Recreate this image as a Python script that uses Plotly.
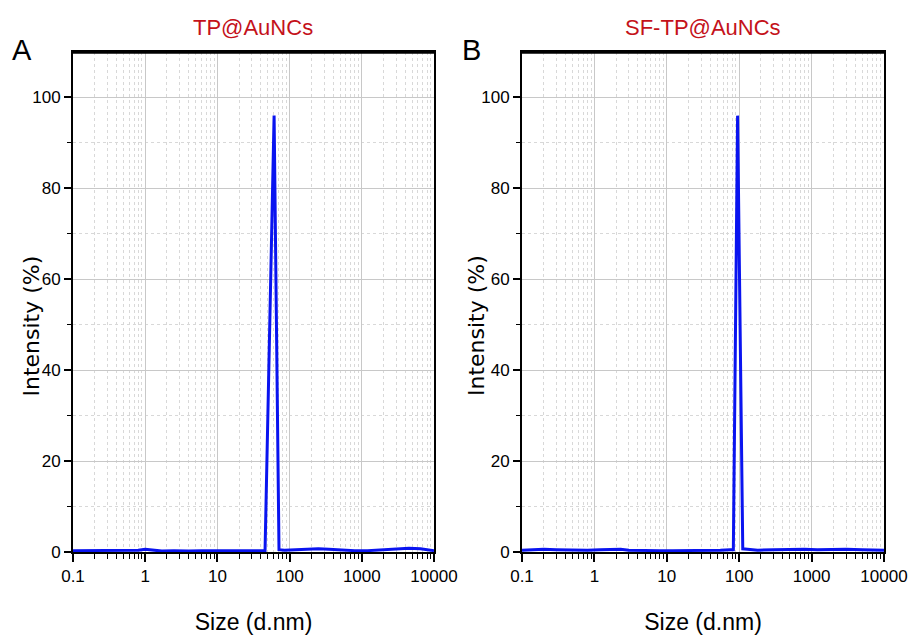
import plotly.graph_objects as go

# Panel A: TP@AuNCs
size_a = [0.1, 0.15, 0.2, 0.3, 0.4, 0.6, 0.8, 1.0, 1.3, 1.7, 2.5, 4, 6, 10, 15, 25, 35, 45.7, 61, 71.3, 85, 120, 180, 250, 350, 500, 800, 1200, 2000, 3000, 4500, 6500, 8500, 10000]
int_a = [0.3, 0.3, 0.4, 0.3, 0.4, 0.3, 0.4, 0.6, 0.4, 0.2, 0.3, 0.2, 0.3, 0.3, 0.2, 0.3, 0.3, 0.3, 96, 0.5, 0.4, 0.5, 0.6, 0.7, 0.6, 0.4, 0.3, 0.3, 0.5, 0.7, 0.8, 0.7, 0.5, 0.3]

# Panel B: SF-TP@AuNCs
size_b = [0.1, 0.15, 0.2, 0.3, 0.5, 0.8, 1.2, 1.8, 2.3, 3, 5, 8, 12, 20, 35, 55, 75, 83, 95, 112, 130, 180, 300, 500, 800, 1200, 2000, 3000, 5000, 8000, 10000]
int_b = [0.4, 0.5, 0.6, 0.5, 0.4, 0.4, 0.5, 0.6, 0.6, 0.4, 0.3, 0.3, 0.3, 0.3, 0.4, 0.4, 0.5, 0.5, 96, 0.7, 0.6, 0.4, 0.5, 0.6, 0.6, 0.5, 0.6, 0.6, 0.5, 0.5, 0.4]

titles = ["TP@AuNCs", "SF-TP@AuNCs"]
labels = ["A", "B"]
x_title = "Size (d.nm)"
y_title = "Intensity (%)"
x_ticks = [0.1, 1, 10, 100, 1000, 10000]
x_ticktext = ["0.1", "1", "10", "100", "1000", "10000"]
y_ticks = [0, 20, 40, 60, 80, 100]

FONT = "Liberation Sans, Arial"
minor_x = [m * 10 ** e for e in range(-1, 4) for m in range(2, 10)]
minor_y = [10, 30, 50, 70, 90]

fig = go.Figure()
fig.add_trace(go.Scatter(x=size_a, y=int_a, mode="lines", line=dict(color="#0a14f0", width=3),
                         xaxis="x", yaxis="y", showlegend=False))
fig.add_trace(go.Scatter(x=size_b, y=int_b, mode="lines", line=dict(color="#0a14f0", width=3),
                         xaxis="x2", yaxis="y2", showlegend=False))

W, H = 916, 636
OFF = 8  # page body margin
xdoms = [[(73 - OFF) / W, (434 - OFF) / W], [(522 - OFF) / W, (884 - OFF) / W]]
ydom = [(H - (552 - OFF)) / H, (H - (52 - OFF)) / H]

def xaxis(dom, anchor):
    return dict(
        type="log", domain=dom, anchor=anchor, range=[-1, 4], automargin=False,
        tickvals=x_ticks, ticktext=x_ticktext,
        ticks="outside", ticklen=8, tickwidth=1.5, tickcolor="black",
        showline=True, linecolor="black", linewidth=2, mirror=True,
        showgrid=True, gridcolor="#c8c8c8", gridwidth=1,
        tickfont=dict(family=FONT, size=17, color="black"),
        title=dict(text=x_title, font=dict(family=FONT, size=23, color="black"), standoff=28),
        minor=dict(tickvals=minor_x, ticks="outside", ticklen=5, tickcolor="black", tickwidth=1.2,
                   showgrid=True, gridcolor="#d8d8d8", griddash="dot", gridwidth=1),
        zeroline=False,
    )

def yaxis(anchor):
    return dict(
        domain=ydom, anchor=anchor, range=[0, 110], automargin=False,
        tickvals=y_ticks,
        ticks="outside", ticklen=7, tickwidth=1.5, tickcolor="black",
        showline=True, linecolor="black", linewidth=2, mirror=True,
        showgrid=True, gridcolor="#c8c8c8", gridwidth=1,
        tickfont=dict(family=FONT, size=17, color="black"),
        minor=dict(tickvals=minor_y, ticks="outside", ticklen=4, tickcolor="black", tickwidth=1.2,
                   showgrid=True, gridcolor="#d8d8d8", griddash="dot", gridwidth=1),
        zeroline=False,
    )

annotations = []
shapes = []
ytitle_x = [30.5, 476]
for i, dom in enumerate(xdoms):
    annotations.append(dict(text=titles[i], x=(dom[0] + dom[1]) / 2, y=1 - (28 - OFF) / H, xref="paper", yref="paper",
                            showarrow=False, xanchor="center", yanchor="middle",
                            font=dict(family=FONT, size=22, color="#c4121a")))
    annotations.append(dict(text=labels[i], x=((22 if i == 0 else 471) - OFF) / W, y=1 - (50 - OFF) / H,
                            xref="paper", yref="paper",
                            showarrow=False, xanchor="center", yanchor="middle",
                            font=dict(family=FONT, size=29, color="black")))
    annotations.append(dict(text=y_title, textangle=-90, x=(ytitle_x[i] - OFF) / W, y=1 - (326 - OFF) / H,
                            xref="paper", yref="paper", showarrow=False, xanchor="center", yanchor="middle",
                            font=dict(family="DejaVu Sans, Verdana", size=22, color="black")))
    shapes.append(dict(type="line", xref="paper", yref="paper", x0=dom[0], x1=dom[1], y0=ydom[1], y1=ydom[1],
                       line=dict(color="black", width=3.5)))

fig.update_layout(
    width=W, height=H,
    margin=dict(l=0, r=0, t=0, b=0),
    paper_bgcolor="white", plot_bgcolor="white",
    xaxis=xaxis(xdoms[0], "y"), yaxis=yaxis("x"),
    xaxis2=xaxis(xdoms[1], "y2"), yaxis2=yaxis("x2"),
    annotations=annotations, shapes=shapes,
)

fig.write_html("out.html")
